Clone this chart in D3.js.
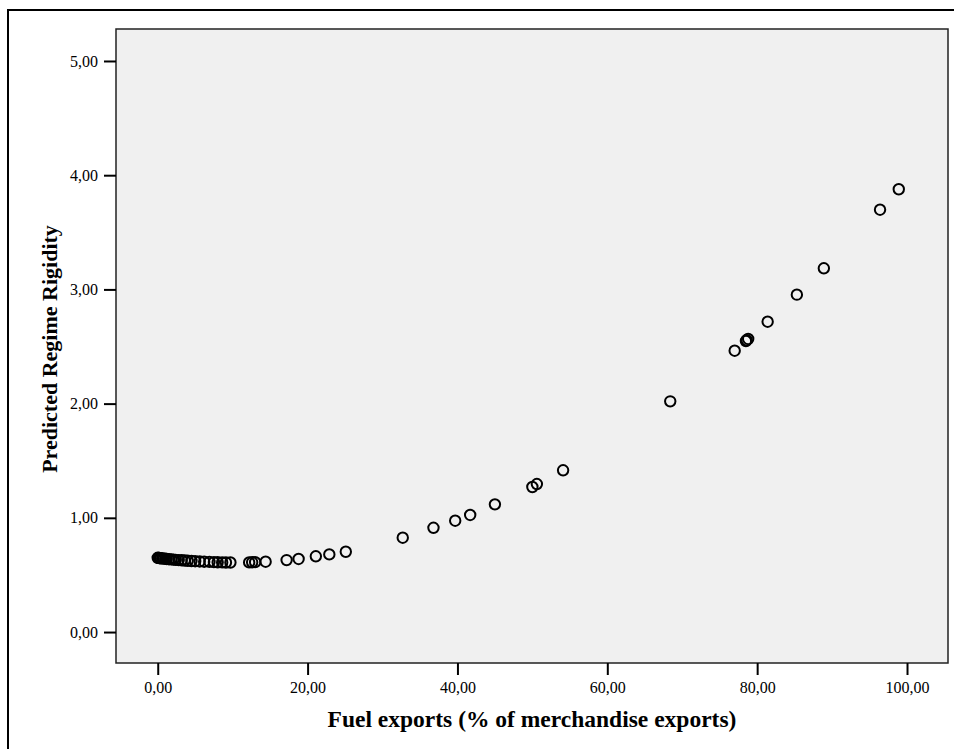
<!DOCTYPE html>
<html>
<head>
<meta charset="utf-8">
<script src="https://cdn.jsdelivr.net/npm/d3@7"></script>
<style>
  html, body { margin: 0; padding: 0; background: #fff; }
  svg { display: block; }
  text { font-family: "Liberation Serif", "DejaVu Serif", serif; fill: #000; }
</style>
</head>
<body>
<svg id="chart" width="954" height="749"></svg>
<script>
// Fuel exports (% of merchandise exports) and predicted regime rigidity
const fuelExports = [
  0.0, 0.1, 0.2, 0.3, 0.4, 0.6, 0.8, 1.0, 1.2, 1.5, 1.8, 2.1, 2.4, 2.8, 3.2,
  3.6, 4.0, 4.5, 5.0, 5.6, 6.2, 6.9, 7.5, 8.0, 8.6, 9.1, 9.7,
  12.2, 12.6, 13.0, 14.4, 17.2, 18.8, 21.1, 22.9, 25.1, 32.7, 36.8, 39.7,
  41.7, 45.0, 50.0, 50.6, 54.1, 68.4, 77.0, 78.5, 78.6, 78.8, 81.4, 85.3,
  88.9, 96.4, 98.9
];
const rigidity = [
  0.650, 0.649, 0.648, 0.647, 0.646, 0.645, 0.643, 0.642, 0.640, 0.638, 0.636, 0.634, 0.632, 0.630, 0.628,
  0.626, 0.624, 0.622, 0.620, 0.618, 0.616, 0.614, 0.612, 0.611, 0.610, 0.609, 0.609,
  0.610, 0.611, 0.612, 0.616, 0.630, 0.640, 0.663, 0.680, 0.703, 0.826, 0.913, 0.975,
  1.025, 1.118, 1.270, 1.296, 1.416, 2.020, 2.463, 2.548, 2.555, 2.566, 2.717, 2.954,
  3.185, 3.698, 3.877
];
const xTicks = [0, 20, 40, 60, 80, 100];
const yTicks = [0, 1, 2, 3, 4, 5];
const xTitle = "Fuel exports (% of merchandise exports)";
const yTitle = "Predicted Regime Rigidity";

const points = fuelExports.map((v, i) => ({ x: v, y: rigidity[i] }));
const fmt = v => d3.format(".2f")(v).replace(".", ",");

const svg = d3.select("#chart");
const plot = { left: 116, right: 948, top: 29, bottom: 663 };

// outer frame (runs past the right and bottom edges of the page)
svg.append("rect")
  .attr("x", 8).attr("y", 10)
  .attr("width", 960).attr("height", 760)
  .attr("fill", "none").attr("stroke", "#000").attr("stroke-width", 2);

const x = d3.scaleLinear().domain([-5.57, 105.47]).range([plot.left, plot.right]);
const y = d3.scaleLinear().domain([-0.271, 5.28]).range([plot.bottom, plot.top]);

// plot background
svg.append("rect")
  .attr("x", plot.left).attr("y", plot.top)
  .attr("width", plot.right - plot.left).attr("height", plot.bottom - plot.top)
  .attr("fill", "#f0f0f0").attr("stroke", "none");

// points
svg.append("g")
  .selectAll("circle")
  .data(points)
  .join("circle")
  .attr("cx", d => x(d.x))
  .attr("cy", d => y(d.y))
  .attr("r", 5.2)
  .attr("fill", "none")
  .attr("stroke", "#000")
  .attr("stroke-width", 2);

// plot border
svg.append("rect")
  .attr("x", plot.left).attr("y", plot.top)
  .attr("width", plot.right - plot.left).attr("height", plot.bottom - plot.top)
  .attr("fill", "none").attr("stroke", "#222").attr("stroke-width", 1.5);

// axes
const xAxis = d3.axisBottom(x).tickValues(xTicks).tickFormat(fmt).tickSize(12).tickPadding(7);
const yAxis = d3.axisLeft(y).tickValues(yTicks).tickFormat(fmt).tickSize(12).tickPadding(6);

const gx = svg.append("g").attr("transform", `translate(0,${plot.bottom})`).call(xAxis);
const gy = svg.append("g").attr("transform", `translate(${plot.left},0)`).call(yAxis);
[gx, gy].forEach(g => {
  g.attr("font-family", null).attr("font-size", null);
  g.select(".domain").remove();
  g.selectAll(".tick line").attr("stroke", "#000").attr("stroke-width", 2);
  g.selectAll(".tick text")
    .style("font-family", "'Liberation Serif', serif")
    .style("font-size", "16px")
    .attr("fill", "#000");
});

// axis titles
svg.append("text")
  .attr("x", (plot.left + plot.right) / 2)
  .attr("y", 727)
  .attr("text-anchor", "middle")
  .style("font-size", "23.5px")
  .attr("font-weight", "bold")
  .text(xTitle);

svg.append("text")
  .attr("transform", `translate(57,${(plot.top + plot.bottom) / 2 + 3}) rotate(-90)`)
  .attr("text-anchor", "middle")
  .style("font-size", "22px")
  .attr("font-weight", "bold")
  .text(yTitle);
</script>
</body>
</html>
